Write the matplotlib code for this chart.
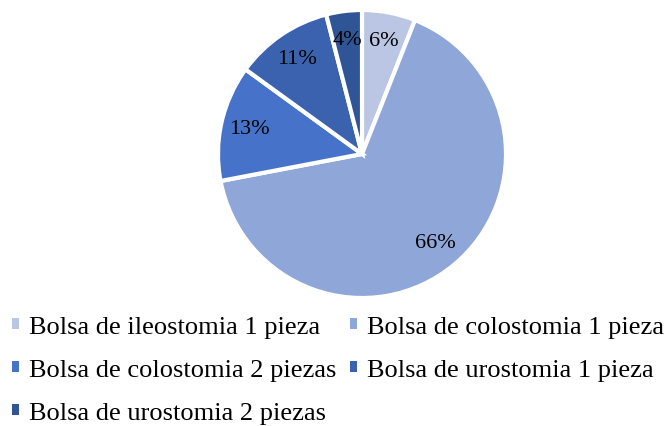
import matplotlib.pyplot as plt
from matplotlib.patches import Patch

labels = ['Bolsa de ileostomia 1 pieza', 'Bolsa de colostomia 1 pieza',
          'Bolsa de colostomia 2 piezas', 'Bolsa de urostomia 1 pieza',
          'Bolsa de urostomia 2 piezas']
values = [6, 66, 13, 11, 4]
colors = ['#BBC6E5', '#8FA6D8', '#4673C9', '#3B62AE', '#2F5597']

plt.rcParams['font.family'] = ['Liberation Serif', 'DejaVu Serif']

fig = plt.figure(figsize=(6.67, 4.27), dpi=100)
ax = fig.add_axes([(362 - 144) / 667, (427 - 155 - 144) / 427, 288 / 667, 288 / 427])

wedges, texts, autotexts = ax.pie(
    values, colors=colors, startangle=90, counterclock=False,
    autopct=lambda p: f'{p:.0f}%', pctdistance=0.8,
    wedgeprops=dict(edgecolor='white', linewidth=3),
    textprops=dict(fontsize=16, color='black'))
ax.set_xlim(-1, 1)
ax.set_ylim(-1, 1)
ax.set_aspect('equal')

# legend filled row by row like the original
order = [0, 2, 4, 1, 3]
handles = [Patch(facecolor=colors[i], edgecolor='none') for i in order]
fig.legend(handles, [labels[i] for i in order],
           ncol=2, loc='upper left', bbox_to_anchor=(0.018, 0.258),
           frameon=False, fontsize=19, handlelength=0.27, handleheight=0.27,
           handletextpad=0.38, columnspacing=0.5, labelspacing=0.8,
           borderaxespad=0, borderpad=0)

fig.savefig('out.png', dpi=100)
